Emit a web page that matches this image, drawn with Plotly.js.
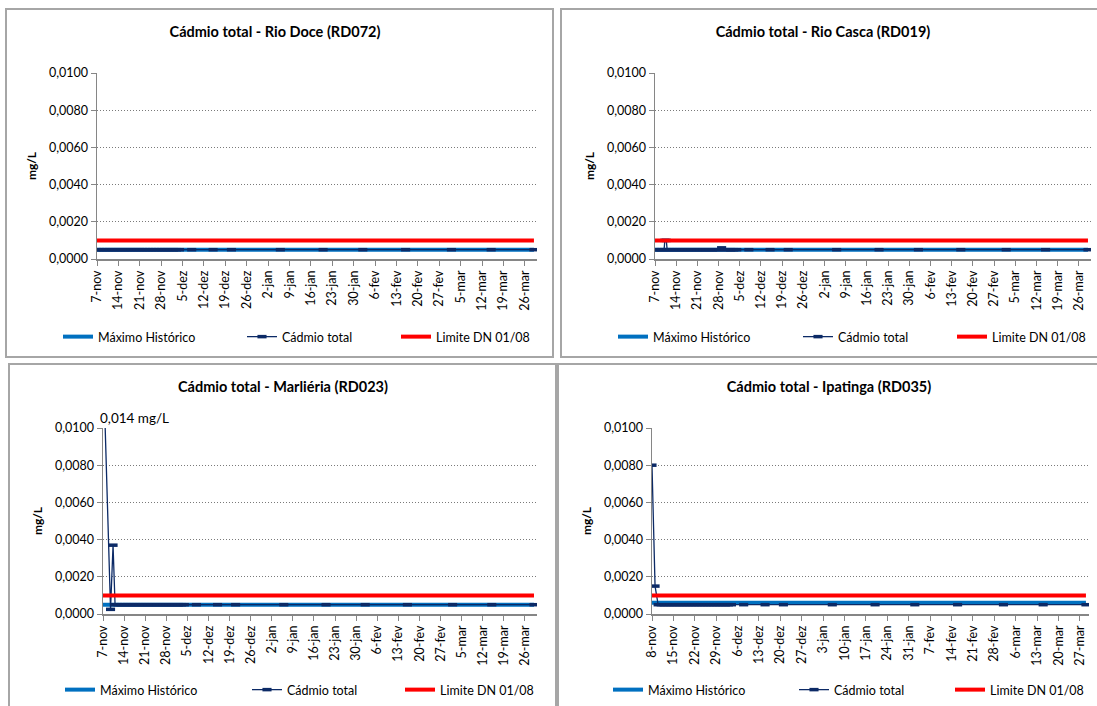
<!DOCTYPE html>
<html>
<head>
<meta charset="utf-8">
<script src="https://cdn.plot.ly/plotly-3.0.1.min.js"></script>
<style>
  html, body { margin:0; padding:0; background:#fff; overflow:hidden; width:1097px; height:706px; }
  .wrap { position:absolute; border:2px solid #a6a6a6; box-sizing:border-box; background:#fff; }
  .plot { position:absolute; left:0; top:0; }
</style>
</head>
<body>
<div class="wrap" id="w1" style="left:5px;top:8px;width:549px;height:350px;"><div class="plot" id="p1" style="width:545px;height:346px;"></div></div>
<div class="wrap" id="w2" style="left:560px;top:8px;width:545px;height:350px;"><div class="plot" id="p2" style="width:541px;height:346px;"></div></div>
<div class="wrap" id="w3" style="left:8px;top:363px;width:549px;height:350px;"><div class="plot" id="p3" style="width:545px;height:346px;"></div></div>
<div class="wrap" id="w4" style="left:557px;top:363px;width:545px;height:350px;"><div class="plot" id="p4" style="width:541px;height:346px;"></div></div>
<script>
// ---------------- DATA ----------------
const seriesNames = ["Máximo Histórico", "Cádmio total", "Limite DN 01/08"];
const panelTitles = [
  "Cádmio total - Rio Doce (RD072)",
  "Cádmio total - Rio Casca (RD019)",
  "Cádmio total - Marliéria (RD023)",
  "Cádmio total - Ipatinga (RD035)"
];
const yTitle = "mg/L";

// Sampling dates (7-nov start)
const datesA = [
  "2015-11-07","2015-11-08","2015-11-09","2015-11-10","2015-11-11","2015-11-12","2015-11-13",
  "2015-11-14","2015-11-15","2015-11-16","2015-11-17","2015-11-18","2015-11-19","2015-11-20",
  "2015-11-21","2015-11-22","2015-11-23","2015-11-24","2015-11-25","2015-11-26","2015-11-27",
  "2015-11-28","2015-11-29","2015-11-30","2015-12-01","2015-12-02","2015-12-03","2015-12-04",
  "2015-12-08","2015-12-15","2015-12-21","2016-01-06","2016-01-20","2016-02-02","2016-02-16",
  "2016-03-02","2016-03-15","2016-03-29"
];
// Rio Doce (RD072)
const cdRD072 = [
  0.0005,0.0005,0.0005,0.0005,0.0005,0.0005,0.0005,
  0.0005,0.0005,0.0005,0.0005,0.0005,0.0005,0.0005,
  0.0005,0.0005,0.0005,0.0005,0.0005,0.0005,0.0005,
  0.0005,0.0005,0.0005,0.0005,0.0005,0.0005,0.0005,
  0.0005,0.0005,0.0005,0.0005,0.0005,0.0005,0.0005,
  0.0005,0.0005,0.0005
];
// Rio Casca (RD019)
const datesRD019 = [
  "2015-11-07","2015-11-08","2015-11-09","2015-11-10","2015-11-10 06:00","2015-11-10 18:00","2015-11-11",
  "2015-11-12","2015-11-13",
  "2015-11-14","2015-11-15","2015-11-16","2015-11-17","2015-11-18","2015-11-19","2015-11-20",
  "2015-11-21","2015-11-22","2015-11-23","2015-11-24","2015-11-25","2015-11-26","2015-11-27",
  "2015-11-28","2015-11-29","2015-11-30","2015-12-01","2015-12-02","2015-12-03","2015-12-04",
  "2015-12-08","2015-12-15","2015-12-21","2016-01-06","2016-01-20","2016-02-02","2016-02-16",
  "2016-03-02","2016-03-15","2016-03-29"
];
const cdRD019 = [
  0.0005,0.0005,0.0005,0.0005,0.0010,0.0010,0.0005,
  0.0005,0.0005,
  0.0005,0.0005,0.0005,0.0005,0.0005,0.0005,0.0005,
  0.0005,0.0005,0.0005,0.0005,0.0005,0.0005,0.0005,
  0.0005,0.0006,0.0005,0.0005,0.0005,0.0005,0.0005,
  0.0005,0.0005,0.0005,0.0005,0.0005,0.0005,0.0005,
  0.0005,0.0005,0.0005
];
// Marliéria (RD023)
const datesRD023 = [
  "2015-11-07","2015-11-09 12:00","2015-11-10 08:00","2015-11-11","2015-11-12","2015-11-13",
  "2015-11-14","2015-11-15","2015-11-16","2015-11-17","2015-11-18","2015-11-19","2015-11-20",
  "2015-11-21","2015-11-22","2015-11-23","2015-11-24","2015-11-25","2015-11-26","2015-11-27",
  "2015-11-28","2015-11-29","2015-11-30","2015-12-01","2015-12-02","2015-12-03","2015-12-04",
  "2015-12-08","2015-12-15","2015-12-21","2016-01-06","2016-01-20","2016-02-02","2016-02-16",
  "2016-03-02","2016-03-15","2016-03-29"
];
const cdRD023 = [
  0.014,0.00025,0.0037,0.0005,0.0005,0.0005,
  0.0005,0.0005,0.0005,0.0005,0.0005,0.0005,0.0005,
  0.0005,0.0005,0.0005,0.0005,0.0005,0.0005,0.0005,
  0.0005,0.0005,0.0005,0.0005,0.0005,0.0005,0.0005,
  0.0005,0.0005,0.0005,0.0005,0.0005,0.0005,0.0005,
  0.0005,0.0005,0.0005
];
// Ipatinga (RD035) (8-nov start)
const datesRD035 = [
  "2015-11-08","2015-11-09","2015-11-10","2015-11-11","2015-11-12","2015-11-13",
  "2015-11-14","2015-11-15","2015-11-16","2015-11-17","2015-11-18","2015-11-19","2015-11-20",
  "2015-11-21","2015-11-22","2015-11-23","2015-11-24","2015-11-25","2015-11-26","2015-11-27",
  "2015-11-28","2015-11-29","2015-11-30","2015-12-01","2015-12-02","2015-12-03","2015-12-04",
  "2015-12-08","2015-12-15","2015-12-21","2016-01-06","2016-01-20","2016-02-02","2016-02-16",
  "2016-03-02","2016-03-15","2016-03-29"
];
const cdRD035 = [
  0.008,0.0015,0.0005,0.0005,0.0005,0.0005,
  0.0005,0.0005,0.0005,0.0005,0.0005,0.0005,0.0005,
  0.0005,0.0005,0.0005,0.0005,0.0005,0.0005,0.0005,
  0.0005,0.0005,0.0005,0.0005,0.0005,0.0005,0.0005,
  0.0005,0.0005,0.0005,0.0005,0.0005,0.0005,0.0005,
  0.0005,0.0005,0.0005
];

// Reference lines (start/end dates and values)
const refDatesA = ["2015-11-07", "2016-03-29"];
const refDatesB = ["2015-11-08", "2016-03-29"];
const maxHistA = [0.0005, 0.0005];
const maxHistB = [0.0006, 0.0006];
const limiteDN = [0.001, 0.001];

// X ticks
const tickDatesA = ["2015-11-07","2015-11-14","2015-11-21","2015-11-28","2015-12-05","2015-12-12","2015-12-19",
  "2015-12-26","2016-01-02","2016-01-09","2016-01-16","2016-01-23","2016-01-30","2016-02-06","2016-02-13",
  "2016-02-20","2016-02-27","2016-03-05","2016-03-12","2016-03-19","2016-03-26"];
const tickTextA = ["7-nov","14-nov","21-nov","28-nov","5-dez","12-dez","19-dez","26-dez","2-jan","9-jan",
  "16-jan","23-jan","30-jan","6-fev","13-fev","20-fev","27-fev","5-mar","12-mar","19-mar","26-mar"];
const tickDatesB = ["2015-11-08","2015-11-15","2015-11-22","2015-11-29","2015-12-06","2015-12-13","2015-12-20",
  "2015-12-27","2016-01-03","2016-01-10","2016-01-17","2016-01-24","2016-01-31","2016-02-07","2016-02-14",
  "2016-02-21","2016-02-28","2016-03-06","2016-03-13","2016-03-20","2016-03-27"];
const tickTextB = ["8-nov","15-nov","22-nov","29-nov","6-dez","13-dez","20-dez","27-dez","3-jan","10-jan",
  "17-jan","24-jan","31-jan","7-fev","14-fev","21-fev","28-fev","6-mar","13-mar","20-mar","27-mar"];
const yTickVals = [0, 0.002, 0.004, 0.006, 0.008, 0.010];
const peakNote = "0,014 mg/L";

// ---------------- STYLE ----------------
const FONT = "Lato, 'Open Sans', sans-serif";
const C_MAX = "#0070C0", C_CD = "#0C2A66", C_LIM = "#FF0000", AX = "#868686";

function makePanel(div, opts) {
  const W = opts.w, H = 346;
  const traces = [
    { x: opts.refDates, y: opts.maxHist, name: seriesNames[0], mode: "lines",
      line: { color: C_MAX, width: 4 }, legend: "legend" },
    { x: opts.dates, y: opts.vals, name: seriesNames[1], mode: "lines+markers",
      line: { color: C_CD, width: 1.3 },
      marker: { symbol: "line-ew", size: 6.5, color: C_CD, line: { color: C_CD, width: 3.5 } },
      cliponaxis: true, legend: "legend2" },
    { x: opts.refDates, y: limiteDN, name: seriesNames[2], mode: "lines",
      line: { color: C_LIM, width: 4 }, legend: "legend3" }
  ];
  const lg = (px) => ({
    orientation: "h", xref: "container", yref: "container",
    x: (px - opts.left) / W, y: opts.legY, xanchor: "left", yanchor: "middle",
    font: { family: FONT, size: 12.5, color: "#000" }, bgcolor: "rgba(0,0,0,0)", borderwidth: 0
  });
  const layout = {
    width: W, height: H,
    margin: { l: opts.ml, r: opts.mr, t: 63, b: 97, pad: 0 },
    paper_bgcolor: "#fff", plot_bgcolor: "#fff",
    separators: ",.",
    showlegend: true,
    title: { text: "<b>" + opts.title + "</b>", xref: "container", yref: "container",
      x: opts.titleX, y: 1 - 22 / H, xanchor: "center", yanchor: "middle",
      font: { family: FONT, size: 14.5, color: "#000" } },
    xaxis: {
      type: "date", range: opts.range, tickvals: opts.tickDates, ticktext: opts.tickText,
      tickangle: -90, tickfont: { family: FONT, size: 12.5, color: "#000" },
      showline: true, linecolor: AX, linewidth: 1.5, ticks: "outside", ticklen: 5,
      tickcolor: AX, tickwidth: 1, showgrid: false, zeroline: false, fixedrange: true
    },
    yaxis: {
      range: [0, 0.01], tickvals: yTickVals, tickformat: ".4f",
      tickfont: { family: FONT, size: 12.5, color: "#000" },
      showline: true, linecolor: AX, linewidth: 1.5, ticks: "outside", ticklen: 5,
      tickcolor: AX, tickwidth: 1, showgrid: true, gridcolor: "#7a7a7a", griddash: "1px,2px",
      gridwidth: 1, zeroline: false, fixedrange: true,
      title: { text: "<b>" + yTitle + "</b>", font: { family: FONT, size: 12, color: "#000" }, standoff: 9 }
    },
    legend: lg(opts.leg[0]), legend2: lg(opts.leg[1]), legend3: lg(opts.leg[2]),
    annotations: opts.note ? [{ text: opts.note, x: opts.dates[0], y: 0.01, xref: "x", yref: "y",
      xanchor: "left", yanchor: "bottom", xshift: -5, yshift: 0, showarrow: false,
      font: { family: FONT, size: 13.5, color: "#000" } }] : []
  };
  Plotly.newPlot(div, traces, layout, { staticPlot: true, displayModeBar: false });
}

makePanel("p1", { w: 545, left: 7, ml: 90, mr: 15, title: panelTitles[0], titleX: (275 - 7) / 545,
  dates: datesA, vals: cdRD072, refDates: refDatesA, maxHist: maxHistA,
  range: ["2015-11-07", "2016-03-30"], tickDates: tickDatesA, tickText: tickTextA,
  legY: 1 - 327 / 346, leg: [58, 242, 396] });
makePanel("p2", { w: 541, left: 562, ml: 93, mr: 12, title: panelTitles[1], titleX: (823 - 562) / 541,
  dates: datesRD019, vals: cdRD019, refDates: refDatesA, maxHist: maxHistA,
  range: ["2015-11-07", "2016-03-30"], tickDates: tickDatesA, tickText: tickTextA,
  legY: 1 - 327 / 346, leg: [613, 798, 952] });
makePanel("p3", { w: 545, left: 10, ml: 93, mr: 18, title: panelTitles[2], titleX: (283 - 10) / 545,
  dates: datesRD023, vals: cdRD023, refDates: refDatesA, maxHist: maxHistA,
  range: ["2015-11-07", "2016-03-30"], tickDates: tickDatesA, tickText: tickTextA,
  legY: 1 - 325 / 346, leg: [60, 247, 400], note: peakNote });
makePanel("p4", { w: 541, left: 559, ml: 93, mr: 11, title: panelTitles[3], titleX: (829 - 559) / 541,
  dates: datesRD035, vals: cdRD035, refDates: refDatesB, maxHist: maxHistB,
  range: ["2015-11-08", "2016-03-30"], tickDates: tickDatesB, tickText: tickTextB,
  legY: 1 - 325 / 346, leg: [608, 794, 950] });
</script>
</body>
</html>
